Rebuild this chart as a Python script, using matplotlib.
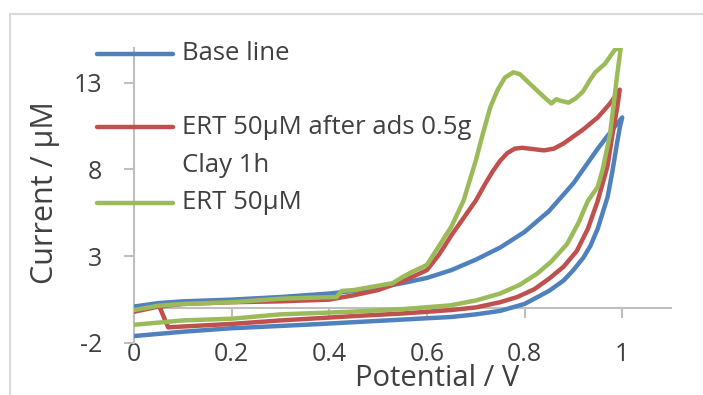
import matplotlib.pyplot as plt
from matplotlib.lines import Line2D
from matplotlib.patches import Rectangle

plt.rcParams['font.family'] = ['Open Sans', 'DejaVu Sans']
plt.rcParams['axes.unicode_minus'] = False

# Base line: forward scan then return scan
base_x = [0.00, 0.05, 0.10, 0.20, 0.30, 0.40, 0.45, 0.50, 0.55, 0.60, 0.65, 0.70, 0.75,
          0.80, 0.85, 0.90, 0.95, 0.98, 1.00,
          0.995, 0.99, 0.98, 0.97, 0.95, 0.935, 0.92, 0.90, 0.88, 0.85, 0.80, 0.75, 0.70,
          0.65, 0.55, 0.45, 0.35, 0.20, 0.10, 0.00]
base_y = [0.10, 0.30, 0.40, 0.50, 0.65, 0.85, 1.00, 1.20, 1.45, 1.75, 2.20, 2.80, 3.50,
          4.40, 5.60, 7.20, 9.20, 10.3, 11.0,
          10.4, 9.60, 7.90, 6.40, 4.60, 3.60, 2.90, 2.20, 1.60, 1.00, 0.25, -0.15, -0.35,
          -0.50, -0.65, -0.80, -0.95, -1.15, -1.35, -1.60]

# ERT 50uM after adsorption on 0.5 g clay, 1 h
ads_x = [0.00, 0.05, 0.10, 0.20, 0.30, 0.40, 0.45, 0.50, 0.55, 0.60, 0.625, 0.65, 0.675,
         0.70, 0.72, 0.735, 0.75, 0.765, 0.78, 0.795, 0.81, 0.84, 0.86, 0.88, 0.90, 0.92,
         0.95, 0.975, 0.995,
         0.99, 0.98, 0.97, 0.95, 0.93, 0.907, 0.88, 0.85, 0.82, 0.785, 0.75, 0.70, 0.65,
         0.55, 0.45, 0.30, 0.20, 0.10, 0.07, 0.055]
ads_y = [-0.20, 0.10, 0.25, 0.35, 0.40, 0.50, 0.75, 1.05, 1.55, 2.20, 3.10, 4.20, 5.20,
         6.20, 7.20, 7.90, 8.50, 8.95, 9.20, 9.25, 9.20, 9.10, 9.20, 9.50, 9.90, 10.3,
         11.0, 11.8, 12.6,
         11.6, 10.0, 8.20, 6.20, 4.60, 3.30, 2.40, 1.70, 1.10, 0.65, 0.35, 0.05, -0.10,
         -0.30, -0.45, -0.70, -0.90, -1.05, -1.10, -0.10]

# ERT 50uM
ert_x = [0.00, 0.05, 0.10, 0.20, 0.30, 0.35, 0.415, 0.425, 0.45, 0.50, 0.53, 0.55, 0.57,
         0.60, 0.625, 0.65, 0.675, 0.70, 0.715, 0.73, 0.745, 0.76, 0.777, 0.79, 0.805,
         0.82, 0.835, 0.855, 0.865, 0.875, 0.89, 0.905, 0.92, 0.935, 0.945, 0.965, 0.985,
         0.997,
         0.99, 0.975, 0.96, 0.95, 0.93, 0.91, 0.887, 0.855, 0.826, 0.79, 0.75, 0.70, 0.648,
         0.55, 0.443, 0.30, 0.20, 0.10, 0.00]
ert_y = [-0.10, 0.15, 0.25, 0.35, 0.55, 0.60, 0.65, 1.00, 1.05, 1.30, 1.45, 1.80, 2.10,
         2.50, 3.60, 4.70, 6.20, 8.50, 10.1, 11.6, 12.6, 13.3, 13.6, 13.5, 13.1,
         12.7, 12.3, 11.8, 12.05, 11.95, 11.85, 12.1, 12.5, 13.2, 13.6, 14.1, 14.9,
         15.0,
         13.5, 10.0, 8.00, 7.00, 6.20, 4.90, 3.70, 2.70, 2.00, 1.35, 0.85, 0.45, 0.17,
         -0.05, -0.20, -0.35, -0.60, -0.70, -0.95]

colors = ['#4F81BD', '#C0504D', '#9BBB59']
x_ticks = [0, 0.2, 0.4, 0.6, 0.8, 1]
x_tick_labels = ['0', '0.2', '0.4', '0.6', '0.8', '1']
y_ticks = [-2, 3, 8, 13]

fig = plt.figure(figsize=(7.03, 3.95), dpi=100)
ax = fig.add_axes([134 / 703, 52 / 395, 537 / 703, 295 / 395])

gray = '#BFBFBF'
lw = 3.2
ax.plot(base_x, base_y, color=colors[0], lw=lw, zorder=3, solid_joinstyle='round')
ax.plot(ads_x, ads_y, color=colors[1], lw=lw, zorder=3, solid_joinstyle='round')
ax.plot(ert_x, ert_y, color=colors[2], lw=lw, zorder=3, solid_joinstyle='round')

ax.set_xlim(0, 1.1)
ax.set_ylim(-2, 15)
ax.set_xticks(x_ticks)
ax.set_xticklabels(x_tick_labels)
ax.set_yticks(y_ticks)

for s in ['top', 'right']:
    ax.spines[s].set_visible(False)
ax.spines['bottom'].set_position(('data', 0))
ax.spines['left'].set_color(gray)
ax.spines['bottom'].set_color(gray)
ax.spines['left'].set_linewidth(1.5)
ax.spines['bottom'].set_linewidth(1.5)
ax.tick_params(axis='both', colors=gray, length=7, width=1.5, labelcolor='#404040',
               labelsize=18)
ax.tick_params(axis='x', pad=17)
ax.tick_params(axis='y', pad=16)

ax.set_xlabel('Potential / V', fontsize=21, color='#404040', va='center')
ax.xaxis.set_label_coords((437 - 134) / 537, (343 - 379) / 295)
ax.set_ylabel('Current / μM', fontsize=22, color='#404040', va='center')
ax.yaxis.set_label_coords((45 - 134) / 537, (343 - 193) / 295)

# legend drawn by hand, Excel style
W, H = 703, 395
for y_px, c in zip([54, 127, 203], colors):
    fig.add_artist(Line2D([97 / W, 173 / W], [1 - y_px / H, 1 - y_px / H],
                          color=c, lw=lw, solid_capstyle='round'))
for y_px, t in zip([54, 127, 165, 203],
                   ['Base line', 'ERT 50μM after ads 0.5g', 'Clay 1h', 'ERT 50μM']):
    fig.text(182 / W, 1 - y_px / H, t, fontsize=18.5, color='#404040', va='center')

fig.add_artist(Rectangle((10 / W, -0.05), 1.1, 1.05 - 14 / H, fill=False,
                         edgecolor='#D9D9D9', lw=1.5))

fig.savefig('out.png', dpi=100)
